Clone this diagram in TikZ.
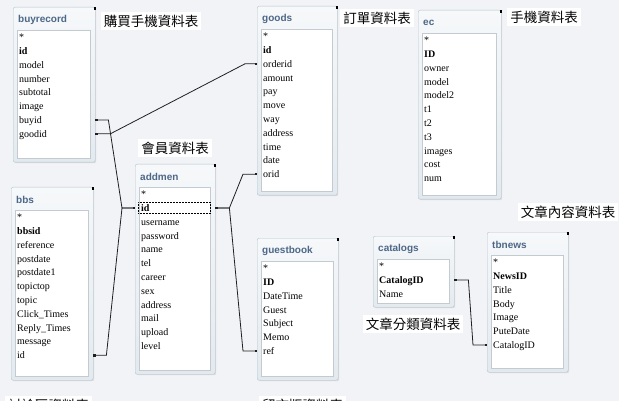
\documentclass[tikz,border=0pt]{standalone}
\usepackage{fontspec}
\setmainfont{Liberation Serif}
\newfontfamily\hdfont{Liberation Sans}
\newfontfamily\cjkfont{Noto Sans CJK TC}
\usepackage{tikz}
\usetikzlibrary{arrows.meta,positioning,calc,shadows}
\definecolor{erbg}{HTML}{F1F3F6}
\definecolor{erframe}{HTML}{B3C4CE}
\definecolor{ertop}{HTML}{F6F8FA}
\definecolor{erbottom}{HTML}{E3EAEF}
\definecolor{erlist}{HTML}{C3CBD1}
\definecolor{ertitle}{HTML}{4D6788}
\definecolor{erline}{HTML}{202020}
\tikzset{
  tablebox/.style={draw=erframe,rounded corners=2pt,top color=ertop,bottom color=erbottom,
                   drop shadow={opacity=0.18,shadow xshift=1pt,shadow yshift=-1pt}},
  tabletitle/.style={font=\hdfont\bfseries\fontsize{10}{12}\selectfont,text=ertitle,inner sep=0pt},
  fieldlist/.style={draw=erlist,fill=white,inner sep=0pt},
  fieldrow/.style={font=\fontsize{10}{12}\selectfont,inner sep=0pt,text height=7pt,text depth=0pt},
  selbox/.style={draw=black,densely dotted,line width=0.5pt,inner sep=0pt},
  tablelabel/.style={fill=white,inner sep=3pt,font=\cjkfont\fontsize{13.5}{16}\selectfont},
  relline/.style={draw=erline,line width=0.8pt,
                  {Square[length=2.2pt,width=2.2pt]}-{Square[length=2.2pt,width=2.2pt]}}
}
% name, left, top, width, height, title, fields
\newcommand\dbtable[7]{%
  \node[tablebox,anchor=north west,minimum width=#4,minimum height=#5] (#1) at (#2,#3) {};
  \node[tabletitle,anchor=west] (#1-title) at ($(#1.north west)+(5,13)$) {#6};
  \node[fieldlist,anchor=north west,minimum width=#4-9,minimum height=#5-27] (#1-list)
    at ($(#1.north west)+(4,23)$) {};
  \foreach \f [count=\i] in {#7}
    \node[fieldrow,anchor=west] (#1-\i) at ($(#1-list.north west)+(2,{7.2+13.8*(\i-1)})$) {\f};
  \fill[black] ([xshift=-1pt]#1.north east) rectangle ++(2,3);
}

\begin{document}
\begin{tikzpicture}[x=1pt,y=-1pt]
    \useasboundingbox (0,0) rectangle (619,401);
    \clip (0,0) rectangle (619,401);
    \fill[erbg] (0,0) rectangle (619,401);

    \dbtable{buyrecord}{13}{7}{82}{155}{buyrecord}
      {*,\textbf{id},model,number,subtotal,image,buyid,goodid}
    \dbtable{goods}{257}{6}{80}{189}{goods}
      {*,\textbf{id},orderid,amount,pay,move,way,address,time,date,orid}
    \dbtable{ec}{418}{10}{83}{189}{ec}
      {*,\textbf{ID},owner,model,model2,t1,t2,t3,images,cost,num}
    \dbtable{bbs}{11}{187}{82}{193}{bbs}
      {*,\textbf{bbsid},reference,postdate,postdate1,topictop,topic,Click\_Times,Reply\_Times,message,id}
    \dbtable{addmen}{135}{164}{80}{210}{addmen}
      {*,\textbf{id},username,password,name,tel,career,sex,address,mail,upload,level}
    \dbtable{guestbook}{257}{238}{81}{142}{guestbook}
      {*,\textbf{ID},DateTime,Guest,Subject,Memo,ref}
    \dbtable{catalogs}{373}{236}{81}{71}{catalogs}
      {*,\textbf{CatalogID},Name}
    \dbtable{tbnews}{487}{232}{81}{140}{tbnews}
      {*,\textbf{NewsID},Title,Body,Image,PuteDate,CatalogID}

    \node[selbox,anchor=west,minimum width=72,minimum height=11] (addmen-sel)
      at ($(addmen-2.west)+(-3,0)$) {};

    \node[tablelabel] (buyrecord-label) at (151,21) {購買手機資料表};
    \node[tablelabel] (goods-label) at (377,18) {訂單資料表};
    \node[tablelabel] (ec-label) at (544,17) {手機資料表};
    \node[tablelabel] (addmen-label) at (175,148) {會員資料表};
    \node[tablelabel] (tbnews-label) at (568,212) {文章內容資料表};
    \node[tablelabel] (catalogs-label) at (413,324) {文章分類資料表};
    \node[tablelabel,anchor=north west] (bbs-label) at (5,396) {討論區資料表};
    \node[tablelabel,anchor=north west] (guestbook-label) at (259,396) {留言版資料表};

    \draw[relline] (buyrecord-7.west -| buyrecord.east) -- ++(13,0)
      -- ($(addmen-2.west -| addmen.west)+(-13,0)$) -- (addmen-2.west -| addmen.west);
    \draw[relline] (bbs-11.west -| bbs.east) -- ++(13,0)
      -- ($(addmen-2.west -| addmen.west)+(-13,0)$) -- (addmen-2.west -| addmen.west);
    \draw[relline] (buyrecord-8.west -| buyrecord.east) -- ++(15,0)
      -- ($(goods-3.west -| goods.west)+(-12,0)$) -- (goods-3.west -| goods.west);
    \draw[relline] (addmen-2.west -| addmen.east) -- ++(14,0)
      -- ($(goods-11.west -| goods.west)+(-14,0)$) -- (goods-11.west -| goods.west);
    \draw[relline] (addmen-2.west -| addmen.east) -- ++(14,0)
      -- ($(guestbook-7.west -| guestbook.west)+(-14,0)$) -- (guestbook-7.west -| guestbook.west);
    \draw[relline] (catalogs-2.west -| catalogs.east) -- ++(14,0)
      -- ($(tbnews-7.west -| tbnews.west)+(-14,0)$) -- (tbnews-7.west -| tbnews.west);
\end{tikzpicture}
\end{document}
